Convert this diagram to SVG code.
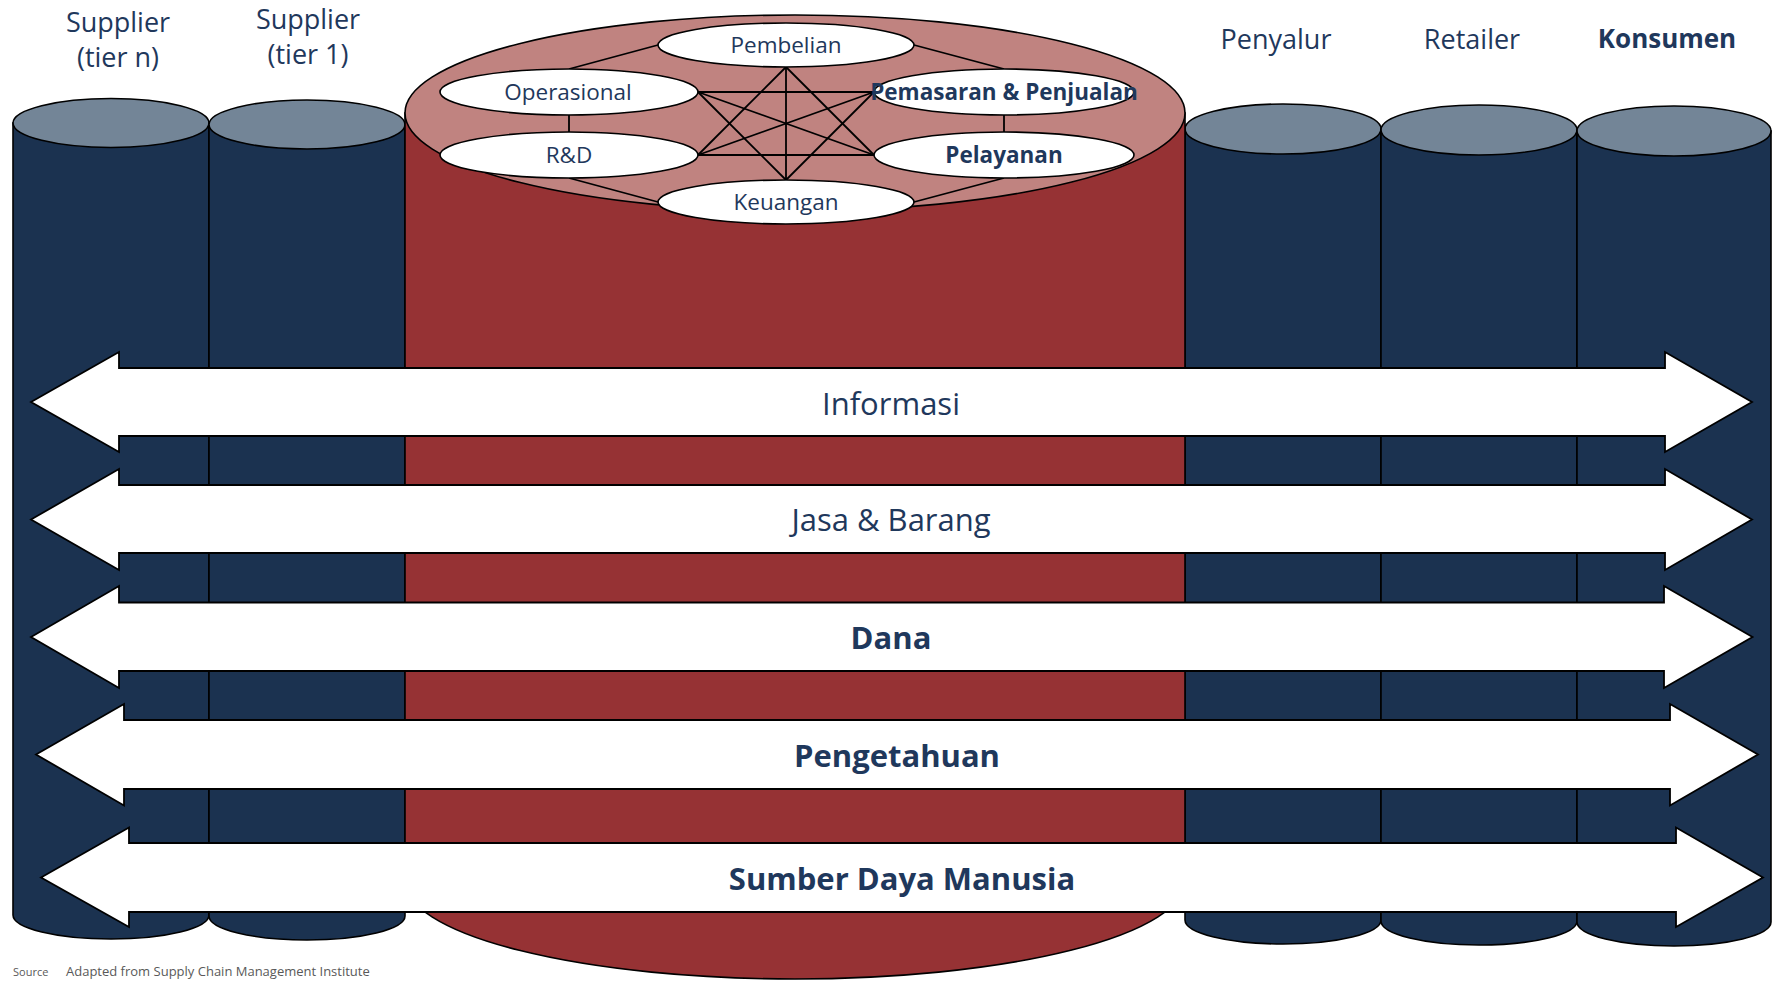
<svg xmlns="http://www.w3.org/2000/svg" width="1775" height="981" viewBox="0 0 1775 981">
  <style>
    .navy { fill: #1b3250; stroke: #000; stroke-width: 1.6; }
    .navy-top { fill: #738597; stroke: #000; stroke-width: 1.6; }
    .red { fill: #963234; stroke: #000; stroke-width: 1.6; }
    .red-top { fill: #c08380; stroke: #000; stroke-width: 1.6; }
    .dept { fill: #fff; stroke: #000; stroke-width: 1.6; }
    .link { stroke: #000; stroke-width: 1.8; fill: none; }
    .flow { fill: #fff; stroke: #000; stroke-width: 1.8; stroke-linejoin: miter; }
    text { font-family: "Open Sans", "Noto Sans", "Liberation Sans", sans-serif; fill: #1f385c; text-anchor: middle; }
    .col-label { font-size: 27px; }
    .dept-label { font-size: 22.5px; }
    .flow-label { font-size: 31px; }
    .b { font-weight: bold; }
    .note { font-size: 13px; fill: #595959; text-anchor: start; }
  </style>

  <!-- supply chain members drawn as cylinders -->
  <g id="supplier-tier-n">
    <path class="navy" d="M13 123 V915 A98 24 0 0 0 209 915 V123 Z"/>
    <ellipse class="navy-top" cx="111" cy="123" rx="98" ry="24.5"/>
    <text class="col-label" x="118" y="32">Supplier</text>
    <text class="col-label" x="118" y="67">(tier n)</text>
  </g>
  <g id="supplier-tier-1">
    <path class="navy" d="M209 124.5 V916 A98 24 0 0 0 405 916 V124.5 Z"/>
    <ellipse class="navy-top" cx="307" cy="124.5" rx="98" ry="24.5"/>
    <text class="col-label" x="308" y="28.5">Supplier</text>
    <text class="col-label" x="308" y="64">(tier 1)</text>
  </g>
  <g id="penyalur">
    <path class="navy" d="M1185 129 V920 A98 24 0 0 0 1381 920 V129 Z"/>
    <ellipse class="navy-top" cx="1283" cy="129" rx="98" ry="25"/>
    <text class="col-label" x="1276" y="49">Penyalur</text>
  </g>
  <g id="retailer">
    <path class="navy" d="M1381 130 V921 A98 24 0 0 0 1577 921 V130 Z"/>
    <ellipse class="navy-top" cx="1479" cy="130" rx="98" ry="25"/>
    <text class="col-label" x="1472" y="49">Retailer</text>
  </g>
  <g id="konsumen">
    <path class="navy" d="M1577 131 V922 A97 24 0 0 0 1771 922 V131 Z"/>
    <ellipse class="navy-top" cx="1674" cy="131" rx="97" ry="25"/>
    <text class="col-label b" x="1667" y="48" style="font-size:26px">Konsumen</text>
  </g>

  <!-- the focal company -->
  <g id="perusahaan">
    <path class="red" d="M405 113 V881 A390 98 0 0 0 1185 881 V113 Z"/>
    <ellipse class="red-top" cx="795" cy="113" rx="390" ry="98"/>
  </g>

  <!-- links between the internal functions -->
  <g id="connectors">
    <line class="link" x1="658" y1="45" x2="569" y2="69"/>
    <line class="link" x1="914" y1="45" x2="1004" y2="69"/>
    <line class="link" x1="569" y1="115" x2="569" y2="132"/>
    <line class="link" x1="1004" y1="115" x2="1004" y2="132"/>
    <line class="link" x1="569" y1="178" x2="658" y2="202"/>
    <line class="link" x1="1004" y1="178" x2="914" y2="202"/>
    <line class="link" x1="786" y1="67" x2="786" y2="180"/>
    <line class="link" x1="698" y1="92" x2="874" y2="92"/>
    <line class="link" x1="698" y1="155" x2="874" y2="155"/>
    <line class="link" x1="698" y1="92" x2="874" y2="155"/>
    <line class="link" x1="698" y1="155" x2="874" y2="92"/>
    <line class="link" x1="786" y1="67" x2="698" y2="155"/>
    <line class="link" x1="786" y1="67" x2="874" y2="155"/>
    <line class="link" x1="786" y1="180" x2="698" y2="92"/>
    <line class="link" x1="786" y1="180" x2="874" y2="92"/>
  </g>

  <!-- internal functions -->
  <g id="pembelian">
    <ellipse class="dept" cx="786" cy="45" rx="128" ry="22"/>
    <text class="dept-label" x="786" y="53">Pembelian</text>
  </g>
  <g id="operasional">
    <ellipse class="dept" cx="569" cy="92" rx="129" ry="23"/>
    <text class="dept-label" x="568" y="100">Operasional</text>
  </g>
  <g id="pemasaran-penjualan">
    <ellipse class="dept" cx="1004" cy="92" rx="130" ry="23"/>
    <text class="dept-label b" x="1004" y="100">Pemasaran &amp; Penjualan</text>
  </g>
  <g id="rnd">
    <ellipse class="dept" cx="569" cy="155" rx="129" ry="23"/>
    <text class="dept-label" x="569" y="163">R&amp;D</text>
  </g>
  <g id="pelayanan">
    <ellipse class="dept" cx="1004" cy="155" rx="130" ry="23"/>
    <text class="dept-label b" x="1004" y="163">Pelayanan</text>
  </g>
  <g id="keuangan">
    <ellipse class="dept" cx="786" cy="202" rx="128" ry="22"/>
    <text class="dept-label" x="786" y="210">Keuangan</text>
  </g>

  <!-- two-way flows along the chain -->
  <g id="flow-informasi">
    <polygon class="flow" points="31,402 119,352 119,368 1665,368 1665,352 1752,402 1665,452 1665,436 119,436 119,452"/>
    <text class="flow-label" x="891" y="415">Informasi</text>
  </g>
  <g id="flow-jasa-barang">
    <polygon class="flow" points="31,519.5 119,469 119,485 1665,485 1665,469 1752,519.5 1665,570 1665,553 119,553 119,570"/>
    <text class="flow-label" x="891" y="531">Jasa &amp; Barang</text>
  </g>
  <g id="flow-dana">
    <polygon class="flow" points="31,637 119,586 119,602.5 1664,602.5 1664,586 1752.5,637 1664,688 1664,671 119,671 119,688"/>
    <text class="flow-label b" x="891" y="649">Dana</text>
  </g>
  <g id="flow-pengetahuan">
    <polygon class="flow" points="36,754.5 124,704 124,720 1670,720 1670,704 1758,754.5 1670,805.5 1670,789 124,789 124,805.5"/>
    <text class="flow-label b" x="897" y="767">Pengetahuan</text>
  </g>
  <g id="flow-sdm">
    <polygon class="flow" points="41,877.5 129,827.5 129,843 1676,843 1676,827.5 1763,877.5 1676,927 1676,912 129,912 129,927"/>
    <text class="flow-label b" x="902" y="890">Sumber Daya Manusia</text>
  </g>

  <!-- source note -->
  <text class="note" x="13" y="976" style="font-size:11px">Source</text>
  <text class="note" x="66" y="976">Adapted from  Supply Chain Management Institute</text>
</svg>
